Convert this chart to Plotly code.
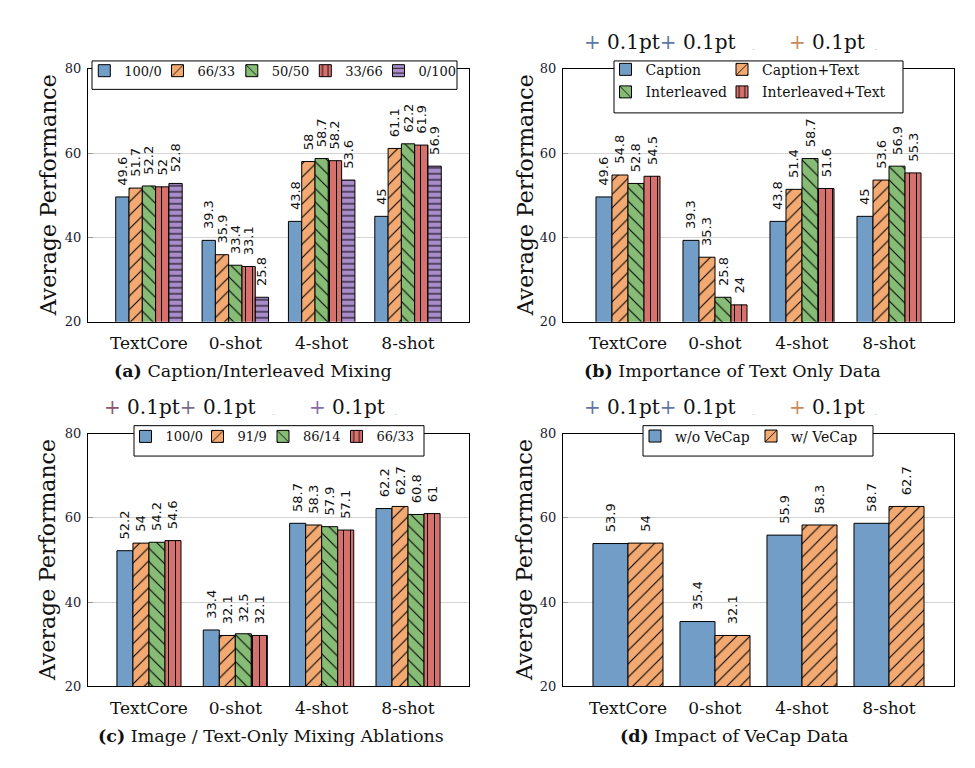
import plotly.graph_objects as go

categories = ["TextCore", "0-shot", "4-shot", "8-shot"]
y_ticks = [20, 40, 60, 80]

# (a) Caption/Interleaved Mixing
a_names = ["100/0", "66/33", "50/50", "33/66", "0/100"]
a_100_0 = [49.6, 39.3, 43.8, 45]
a_66_33 = [51.7, 35.9, 58, 61.1]
a_50_50 = [52.2, 33.4, 58.7, 62.2]
a_33_66 = [52, 33.1, 58.2, 61.9]
a_0_100 = [52.8, 25.8, 53.6, 56.9]

# (b) Importance of Text Only Data
b_names = ["Caption", "Caption+Text", "Interleaved", "Interleaved+Text"]
b_caption = [49.6, 39.3, 43.8, 45]
b_caption_text = [54.8, 35.3, 51.4, 53.6]
b_interleaved = [52.8, 25.8, 58.7, 56.9]
b_interleaved_text = [54.5, 24, 51.6, 55.3]

# (c) Image / Text-Only Mixing Ablations
c_names = ["100/0", "91/9", "86/14", "66/33"]
c_100_0 = [52.2, 33.4, 58.7, 62.2]
c_91_9 = [54, 32.1, 58.3, 62.7]
c_86_14 = [54.2, 32.5, 57.9, 60.8]
c_66_33 = [54.6, 32.1, 57.1, 61]

# (d) Impact of VeCap Data
d_names = ["w/o VeCap", "w/ VeCap"]
d_without = [53.9, 35.4, 55.9, 58.7]
d_with = [54, 32.1, 58.3, 62.7]

W, H = 975, 768
SERIF = "DejaVu Serif"
SANS = "DejaVu Sans"

BLUE = "#729dc6"
ORANGE = "#f2a972"
GREEN = "#86bc76"
RED = "#d6716d"
PURPLE = "#a98dc9"

STYLE = {
    "blue": (BLUE, "", 8, 0.1),
    "orange": (ORANGE, "/", 9.5, 0.11),
    "green": (GREEN, "\\", 9.5, 0.11),
    "red": (RED, "|", 7, 0.15),
    "purple": (PURPLE, "-", 6, 0.17),
}


def px(x):
    return x / W


def py(y):
    return 1 - y / H


fig = go.Figure()
legend_layout = {}
legend_counter = [0]


def new_legend(sym_x, cy, fsize):
    legend_counter[0] += 1
    n = legend_counter[0]
    name = "legend" if n == 1 else f"legend{n}"
    legend_layout[name] = dict(
        orientation="h", x=px(sym_x - 19.5), y=py(cy - 5), xanchor="left",
        yanchor="middle", bgcolor="rgba(0,0,0,0)", borderwidth=0,
        font=dict(family=SERIF, size=fsize, color="#111"),
        itemclick=False, itemdoubleclick=False)
    return name


def add_group(series, names, styles, ax_id, group_frac, legend_pos, fsize):
    n = len(series)
    w = group_frac / n
    xa = "x" if ax_id == 1 else f"x{ax_id}"
    ya = "y" if ax_id == 1 else f"y{ax_id}"
    for i, (vals, name, st, lp) in enumerate(zip(series, names, styles,
                                                  legend_pos)):
        col, shp, size, sol = STYLE[st]
        fig.add_trace(go.Bar(
            x=categories, y=vals, name=name, xaxis=xa, yaxis=ya,
            width=w, offset=-group_frac / 2 + i * w,
            marker=dict(color=col, line=dict(color="black", width=1),
                        pattern=dict(shape=shp, size=size, solidity=sol,
                                     fgcolor="black", fgopacity=1,
                                     fillmode="overlay")),
            text=["\u00a0\u00a0" + f"{v:g}" for v in vals],
            textposition="outside", textangle=-90,
            textfont=dict(family=SANS, size=13, color="#111"),
            constraintext="none",
            legend=new_legend(*lp, fsize),
        ))


add_group([a_100_0, a_66_33, a_50_50, a_33_66, a_0_100], a_names,
          ["blue", "orange", "green", "red", "purple"], 1, 0.77,
          [(103.8, 70), (177, 70), (251.3, 70), (324.8, 70), (398, 70)], 13)
add_group([b_caption, b_caption_text, b_interleaved, b_interleaved_text],
          b_names, ["blue", "orange", "green", "red"], 2, 0.736,
          [(625, 69), (741.5, 69), (625, 92), (741.5, 92)], 14)
add_group([c_100_0, c_91_9, c_86_14, c_66_33], c_names,
          ["blue", "orange", "green", "red"], 3, 0.742,
          [(145, 443), (217, 443), (282.5, 443), (356, 443)], 13)
add_group([d_without, d_with], d_names, ["blue", "orange"], 4, 0.805,
          [(654.5, 443), (770.5, 443)], 14)
fig.update_layout(**legend_layout)

# axes
top_dom = [py(321), py(63)]
bot_dom = [py(693), py(435)]
left_dom = [px(88), px(469)]
right_dom = [px(563), px(954)]
panels = {
    1: (left_dom, top_dom, [-0.706, 3.706]),
    2: (right_dom, top_dom, [-0.747, 3.747]),
    3: (left_dom, bot_dom, [-0.706, 3.706]),
    4: (right_dom, bot_dom, [-0.747, 3.747]),
}
layout_axes = {}
for k, (xd, yd, xr) in panels.items():
    xn = "xaxis" if k == 1 else f"xaxis{k}"
    yn = "yaxis" if k == 1 else f"yaxis{k}"
    layout_axes[xn] = dict(
        domain=xd, anchor="y" if k == 1 else f"y{k}", range=xr,
        type="category", categoryarray=categories,
        showline=True, linecolor="black", linewidth=1, mirror=True,
        showgrid=False, ticks="", ticklabelstandoff=6,
        tickfont=dict(family=SERIF, size=17, color="#111"),
        fixedrange=True,
    )
    layout_axes[yn] = dict(
        domain=yd, anchor="x" if k == 1 else f"x{k}", range=[20, 80],
        tickvals=y_ticks, showline=True, linecolor="black", linewidth=1,
        mirror=True, showgrid=True, gridcolor="#d4d4d4", gridwidth=1,
        ticks="inside", ticklen=5, tickcolor="#999", zeroline=False,
        ticklabelstandoff=3,
        tickfont=dict(family=SERIF, size=13, color="#1a1a2e"),
        fixedrange=True,
    )
fig.update_layout(**layout_axes)

# legend frames (white boxes over the axis frame)
boxes = [(92, 55, 457, 84), (614, 55, 903, 108), (134, 427, 424, 458),
         (643, 427, 873, 458)]
shapes = []
for x0, y0, x1, y1 in boxes:
    shapes.append(dict(type="rect", xref="paper", yref="paper",
                       x0=px(x0), x1=px(x1), y0=py(y1), y1=py(y0),
                       fillcolor="white", line=dict(color="black", width=1),
                       layer="above"))
fig.update_layout(shapes=shapes)

ann = []
# y titles
for xc, yc in [(48, 192), (525, 192), (48, 564), (525, 564)]:
    ann.append(dict(text="Average Performance", x=px(xc), y=py(yc),
                    xref="paper", yref="paper", textangle=-90,
                    xanchor="center", yanchor="middle",
                    showarrow=False, font=dict(family=SERIF, size=22,
                                               color="#111")))
# captions
captions = [
    ("<b>(a)</b> Caption/Interleaved Mixing", 253, 371),
    ("<b>(b)</b> Importance of Text Only Data", 732, 371),
    ("<b>(c)</b> Image / Text-Only Mixing Ablations", 271, 744),
    ("<b>(d)</b> Impact of VeCap Data", 734, 744),
]
for t, xc, yc in captions:
    ann.append(dict(text=t, x=px(xc), y=py(yc), xref="paper", yref="paper",
                    xanchor="center", yanchor="middle",
                    showarrow=False, font=dict(family=SERIF, size=17.5,
                                               color="#111")))

# stray "+ 0.1pt" legend-image text above panels b, c, d
plus_sets = [
    (582, 36, ["#5f76a6", "#5f76a6", "#c98a5a"]),
    (102, 408, ["#8a5470", "#7a6a8a", "#8a6aa6"]),
    (582, 408, ["#5f76a6", "#5f76a6", "#c98a5a"]),
]
for x0, yc, cols in plus_sets:
    t1 = (f"<span style='color:{cols[0]}'>+</span> 0.1pt"
          f"<span style='color:{cols[1]}'>+</span> 0.1pt")
    ann.append(dict(text=t1, x=px(x0), y=py(yc), xref="paper", yref="paper",
                    xanchor="left", yanchor="middle", showarrow=False,
                    font=dict(family=SERIF, size=20, color="#111")))
    t2 = f"<span style='color:{cols[2]}'>+</span> 0.1pt"
    ann.append(dict(text=t2, x=px(x0 + 205), y=py(yc), xref="paper",
                    yref="paper", xanchor="left", yanchor="middle",
                    showarrow=False,
                    font=dict(family=SERIF, size=20, color="#111")))
    for dx in (171, 293):
        ann.append(dict(text=".", x=px(x0 + dx), y=py(yc + 5), xref="paper",
                        yref="paper", xanchor="center", yanchor="middle",
                        showarrow=False,
                        font=dict(family=SERIF, size=9, color="#bbbbbb")))
fig.update_layout(annotations=ann)

fig.update_layout(
    width=W, height=H, margin=dict(l=0, r=0, t=0, b=0),
    paper_bgcolor="white", plot_bgcolor="white",
    barmode="overlay", font=dict(family=SERIF, color="#111"),
    showlegend=True,
)

fig.write_html("out.html", config={"displayModeBar": False})
